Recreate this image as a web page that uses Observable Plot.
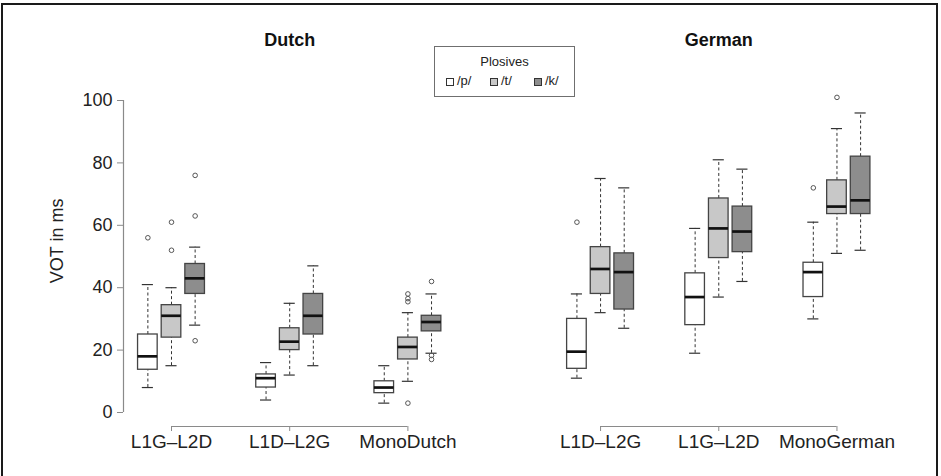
<!DOCTYPE html>
<html>
<head>
<meta charset="utf-8">
<script src="https://cdn.jsdelivr.net/npm/d3@7"></script>
<script src="https://cdn.jsdelivr.net/npm/@observablehq/plot@0.6"></script>
<style>
  body { margin: 0; background: #fff; font-family: "Liberation Sans", Arial, sans-serif; }
  #wrap { position: relative; width: 941px; height: 476px; overflow: hidden; background: #fff; }
  #wrap svg { position: absolute; left: 0; top: 0; }
  #border { position: absolute; left: 1px; top: 3px; width: 933px; height: 490px; border: 2px solid #1a1a1a; border-bottom: none; pointer-events: none; }
  #legend { position: absolute; left: 434px; top: 46px; width: 139px; height: 49px; border: 1.5px solid #6f6f6f; background: #fff; font-size: 13px; color: #222; }
  #legend .title { position: absolute; left: 0; right: 0; top: 7px; text-align: center; }
  #legend .sw { position: absolute; top: 31px; width: 6px; height: 6px; border: 1px solid #333; }
  #legend .lb { position: absolute; top: 26px; }
</style>
</head>
<body>
<div id="wrap">
  <div id="chart"></div>
  <div id="border"></div>
  <div id="legend"></div>
</div>
<script>
// ---- data ----
const languages = ["Dutch", "German"];
const dutchGroups = ["L1G–L2D", "L1D–L2G", "MonoDutch"];
const germanGroups = ["L1D–L2G", "L1G–L2D", "MonoGerman"];
const plosives = ["/p/", "/t/", "/k/"];
const yTicks = [0, 20, 40, 60, 80, 100];

// 18 boxes, ordered language -> group -> plosive
const whiskerLow  = [8, 15, 28,   4, 12, 15,     3, 10, 19,   11, 32, 27,   19, 37, 42,     30, 51, 52];
const q1          = [13.7, 24, 38, 8, 20, 25,    6.2, 17, 26, 14, 38, 33,   28, 49.5, 51.4, 37, 63.6, 63.6];
const median      = [18, 31, 43,  11, 22.7, 31,  8, 21, 29,   19.5, 46, 45, 37, 59, 58,     45, 66, 68];
const q3          = [25, 34.4, 47.6, 12.2, 27, 38, 10, 24, 31, 30, 53, 51,  44.6, 68.6, 66, 48, 74.4, 82];
const whiskerHigh = [41, 40, 53,  16, 35, 47,    15, 32, 38,  38, 75, 72,   59, 81, 78,     61, 91, 96];

const outlierBox   = [0, 1, 1, 2, 2, 2, 7, 7, 7, 7, 8, 8, 8, 9, 15, 16];
const outlierValue = [56, 61, 52, 76, 63, 23, 38, 36.5, 35.5, 3, 42, 18.3, 17, 61, 72, 101];

// ---- layout constants (in units of group spacing) ----
const PANEL = 3.63;   // offset of second panel
const STEP = 0.2;     // offset between plosive boxes
const HALF = 0.083;   // half box width
const CAP = 0.047;    // half whisker-cap width
const fills = ["#ffffff", "#c8c8c8", "#8d8d8d"];

const groupSets = [dutchGroups, germanGroups];
const boxes = [];
const groupTicks = [];
const panels = [];
languages.forEach((lang, li) => {
  const gs = groupSets[li];
  panels.push({lang, x1: li * PANEL, x2: li * PANEL + gs.length - 1, mid: li * PANEL + (gs.length - 1) / 2});
  gs.forEach((g, gi) => {
    groupTicks.push({x: li * PANEL + gi, label: g});
    plosives.forEach((p, pi) => {
      const i = boxes.length;
      boxes.push({
        lang, group: g, plosive: p,
        x: li * PANEL + gi + (pi - 1) * STEP,
        lo: whiskerLow[i], q1: q1[i], med: median[i], q3: q3[i], hi: whiskerHigh[i]
      });
    });
  });
});
const outliers = outlierBox.map((b, i) => ({x: boxes[b].x, v: outlierValue[i], plosive: boxes[b].plosive}));
const tickLabel = new Map(groupTicks.map(d => [d.x, d.label]));

const pxPerUnit = 118.2;
const xLeft = -(171 - 123) / pxPerUnit;          // y-axis line position
const xMax = groupTicks[groupTicks.length - 1].x;

const font = "'Liberation Sans', Arial, sans-serif";

const chart = Plot.plot({
  width: 941,
  height: 476,
  marginLeft: 123,
  marginTop: 100,
  marginBottom: 50,
  marginRight: 60,
  style: {fontFamily: font, background: "transparent", overflow: "visible"},
  x: {type: "linear", domain: [xLeft, xMax], range: [123, 171 + xMax * pxPerUnit], label: null},
  y: {domain: [0, 100], range: [412, 100], label: null},
  color: {domain: plosives, range: fills},
  marks: [
    // y axis line
    Plot.ruleX([xLeft], {y1: 0, y2: 100, stroke: "#8a8a8a", strokeWidth: 1.2}),
    Plot.axisY({ticks: yTicks, tickSize: 6, tickPadding: 5, fontSize: 18, stroke: "#8a8a8a", fill: "#222", label: null}),
    // x axis brackets
    Plot.ruleY(panels, {y: 0, x1: "x1", x2: "x2", dy: 14, stroke: "#8a8a8a", strokeWidth: 1.2}),
    Plot.axisX({ticks: groupTicks.map(d => d.x), tickFormat: d => tickLabel.get(d), tickSize: 5, tickPadding: 3, fontSize: 19, stroke: "#8a8a8a", fill: "#222", label: null}),
    // whiskers
    Plot.ruleX(boxes, {x: "x", y1: "lo", y2: "q1", stroke: "#333", strokeWidth: 1, strokeDasharray: "3,2.5"}),
    Plot.ruleX(boxes, {x: "x", y1: "q3", y2: "hi", stroke: "#333", strokeWidth: 1, strokeDasharray: "3,2.5"}),
    Plot.ruleY(boxes, {y: "lo", x1: d => d.x - CAP, x2: d => d.x + CAP, stroke: "#333", strokeWidth: 1.2}),
    Plot.ruleY(boxes, {y: "hi", x1: d => d.x - CAP, x2: d => d.x + CAP, stroke: "#333", strokeWidth: 1.2}),
    // boxes
    Plot.rect(boxes, {x1: d => d.x - HALF, x2: d => d.x + HALF, y1: "q1", y2: "q3", fill: "plosive", stroke: "#444", strokeWidth: 1.3}),
    // medians
    Plot.ruleY(boxes, {y: "med", x1: d => d.x - HALF, x2: d => d.x + HALF, stroke: "#111", strokeWidth: 2.7}),
    // outliers
    Plot.dot(outliers, {x: "x", y: "v", r: 2.3, stroke: "#555", strokeWidth: 1, fill: "none"}),
    // panel titles
    Plot.text(panels, {x: "mid", text: "lang", frameAnchor: "top", dy: -60, fontSize: 18, fontWeight: "bold", fill: "#111", lineAnchor: "middle"}),
    // y axis title
    Plot.text(["VOT in ms"], {frameAnchor: "left", y: () => 55, dx: -66, rotate: -90, fontSize: 18, fill: "#222", lineAnchor: "middle", textAnchor: "middle"})
  ]
});
document.getElementById("chart").appendChild(chart);

// legend
const legend = document.getElementById("legend");
const t = document.createElement("div");
t.className = "title"; t.textContent = "Plosives";
legend.appendChild(t);
const swLeft = [11, 55, 99];
plosives.forEach((p, i) => {
  const s = document.createElement("div");
  s.className = "sw"; s.style.left = swLeft[i] + "px"; s.style.background = fills[i];
  legend.appendChild(s);
  const l = document.createElement("div");
  l.className = "lb"; l.style.left = (swLeft[i] + 11) + "px"; l.textContent = p;
  legend.appendChild(l);
});
</script>
</body>
</html>
